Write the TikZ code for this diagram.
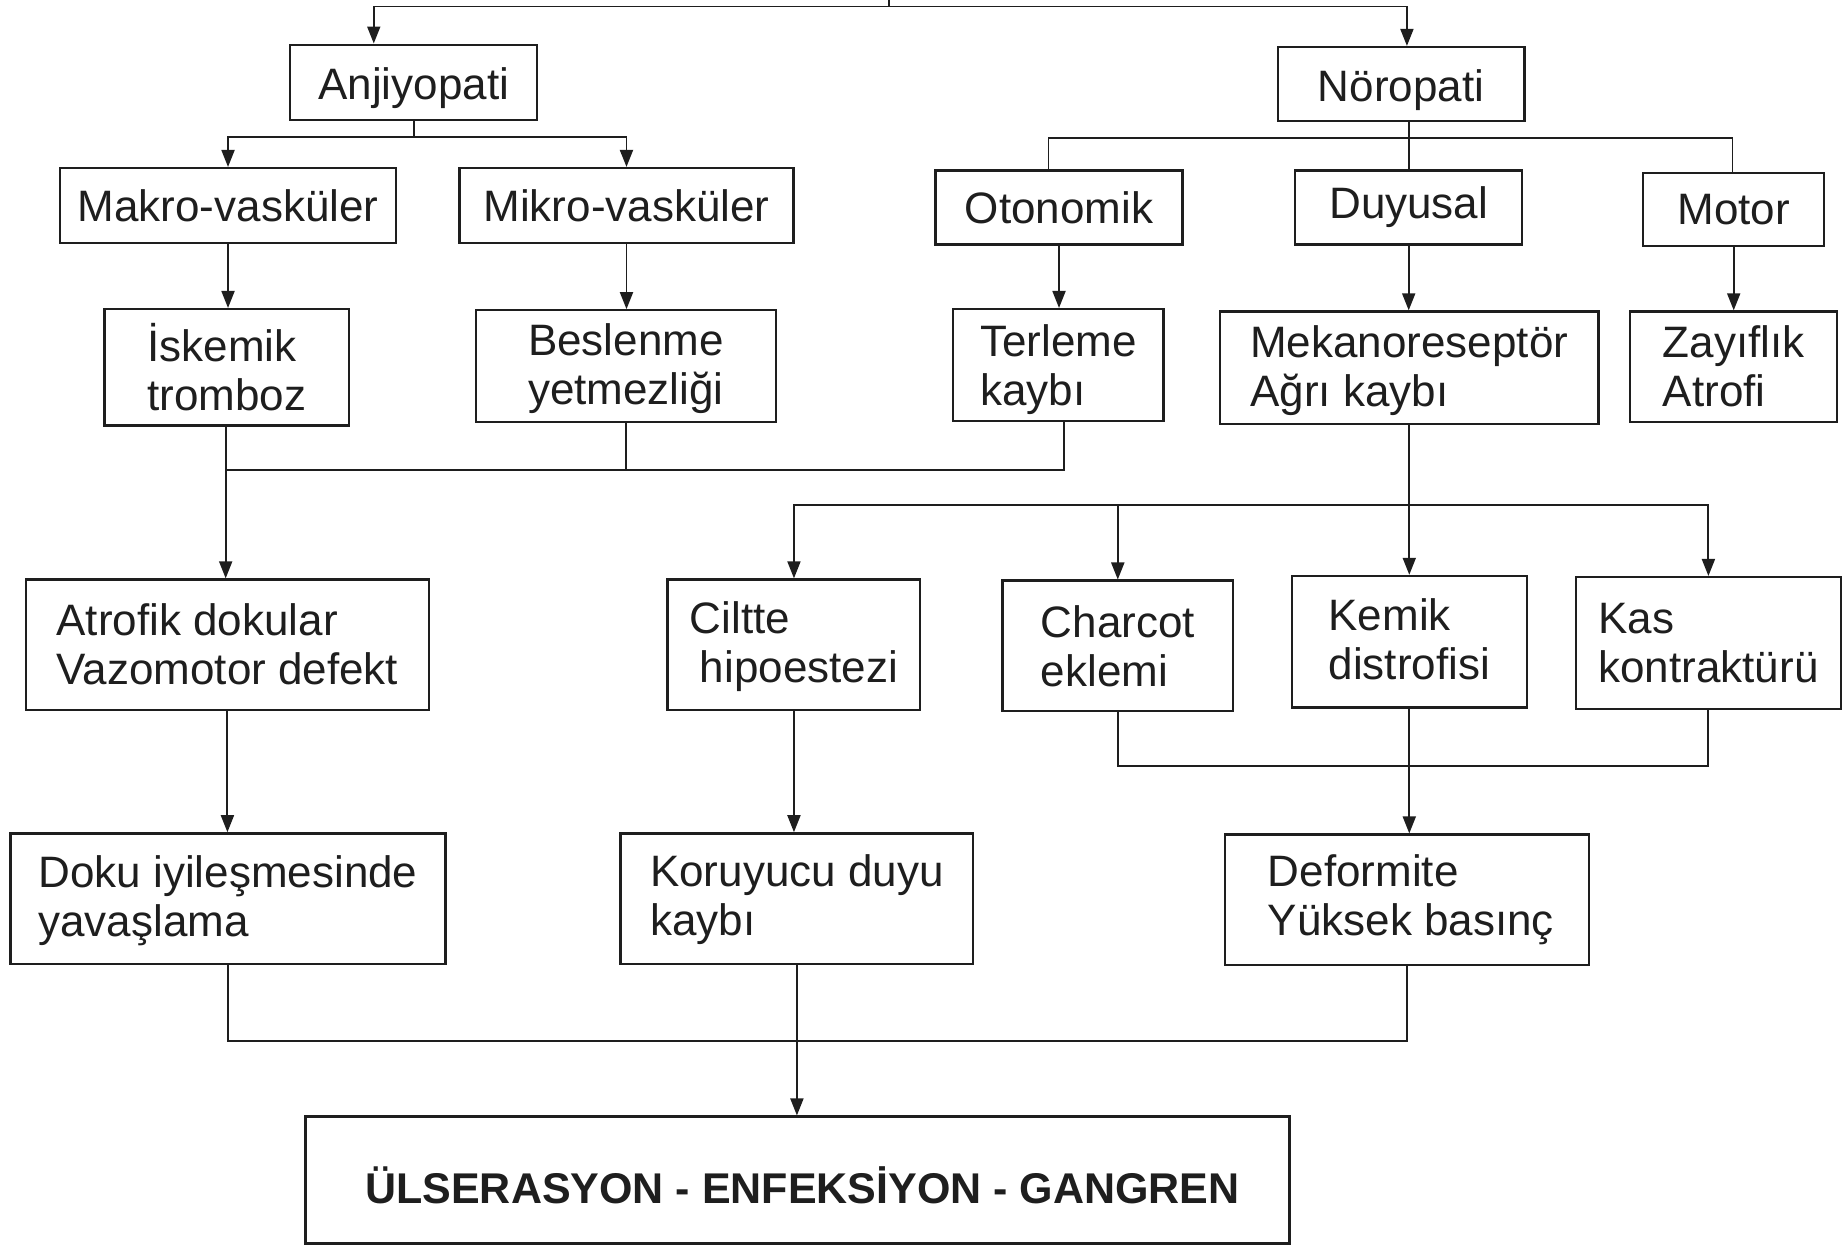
\documentclass[tikz,border=0pt]{standalone}
\usepackage{fontspec}
\setmainfont{Liberation Sans}
\usetikzlibrary{arrows.meta}
\definecolor{ink}{HTML}{1E1E1E}
\newcommand{\lowr}[2]{\raisebox{-#1pt}[\height][\depth]{#2}}
\begin{document}
\begin{tikzpicture}[x=1.1754pt,y=-1.1754pt,
  box/.style 2 args={draw=ink,line width=2.3pt,text=ink,minimum width=#1*1.1754pt,minimum height=#2*1.1754pt,inner sep=0pt,align=left,font=\fontsize{44}{49}\selectfont},
  ln/.style={draw=ink,line width=1.9pt},
  arr/.style={ln,-{Triangle[length=17pt,width=13pt]}}]
\useasboundingbox (0,0) rectangle (1568,1060);

% boxes
\node[box={210}{64}] (anj) at (352,70) {\lowr{6}{Anjiyopati}};
\node[box={210}{63}] (nor) at (1192,71.5) {\lowr{6}{Nöropati}};
\node[box={286}{64}] (makro) at (194,175) {Makro-vasküler};
\node[box={284}{64}] (mikro) at (533,175) {Mikro-vasküler};
\node[box={210}{63}] (oto) at (901,176.5) {Otonomik};
\node[box={193}{63}] (duy) at (1198.5,176.5) {Duyusal};
\node[box={154}{62}] (mot) at (1475,178) {Motor};
\node[box={208}{99}] (isk) at (193,312.5) {İskemik\\tromboz};
\node[box={255}{95}] (bes) at (532.5,311.5) {\lowr{4}{\begin{tabular}{@{}l@{}}Beslenme\\yetmezliği\end{tabular}}};
\node[box={179}{95}] (ter) at (900.5,310.5) {\lowr{6}{\begin{tabular}{@{}l@{}}Terleme\\kaybı\end{tabular}}};
\node[box={322}{96}] (mek) at (1199,313) {\lowr{4}{\begin{tabular}{@{}l@{}}Mekanoreseptör\\Ağrı kaybı\end{tabular}}};
\node[box={176}{94}] (zay) at (1475,312) {Zayıflık\\Atrofi};
\node[box={343}{111}] (atr) at (193.5,548.5) {Atrofik dokular\\Vazomotor defekt};
\node[box={215}{111}] (cil) at (675.5,548.5) {\lowr{3}{\begin{tabular}{@{}l@{}}Ciltte\\\hspace*{10pt}hipoestezi\end{tabular}}};
\node[box={196}{111}] (cha) at (951,549.5) {Charcot\\eklemi};
\node[box={200}{112}] (kem) at (1199,546) {\lowr{3}{\begin{tabular}{@{}l@{}}Kemik\\distrofisi\end{tabular}}};
\node[box={225}{112}] (kas) at (1453.5,547) {Kas\\kontraktürü};
\node[box={370}{111}] (dok) at (194,764.5) {\lowr{4}{\begin{tabular}{@{}l@{}}Doku iyileşmesinde\\yavaşlama\end{tabular}}};
\node[box={300}{111}] (kor) at (678,764.5) {\lowr{3}{\begin{tabular}{@{}l@{}}Koruyucu duyu\\kaybı\end{tabular}}};
\node[box={310}{111}] (def) at (1197,765.5) {\hspace*{8pt}Deformite\\\hspace*{8pt}Yüksek basınç};
\node[box={837}{108},font=\fontsize{43}{48}\selectfont\bfseries] (ulc) at (678.5,1004) {\hspace*{10pt}\lowr{5}{ÜLSERASYON - ENFEKSİYON - GANGREN}};

% top connectors
\coordinate (tp) at (756,0);
\coordinate (tj) at (756,5.5);
\coordinate (a1) at (318,5.5);
\coordinate (a2) at (1197,5.5);
\draw[ln] (tp) -- (tj);
\draw[ln] (a1) -- (a2);
\draw[arr] (a1) -- (a1 |- anj.north);
\draw[arr] (a2) -- (a2 |- nor.north);

% Anjiyopati branches
\coordinate (aj) at (352,116.5);
\draw[ln] (anj.south) -- (aj);
\draw[arr] (aj) -| (makro.north);
\draw[arr] (aj) -| (mikro.north);

% Noropati branches
\coordinate (nj) at (1199,117.7);
\coordinate (o1) at (892,117.7);
\coordinate (m1) at (1474,117.7);
\draw[ln] (nj |- nor.south) -- (nj |- duy.north);
\draw[ln] (o1 |- oto.north) -- (o1) -- (m1) -- (m1 |- mot.north);

% second level arrows
\draw[arr] (makro.south) -- (makro.south |- isk.north);
\draw[arr] (mikro.south) -- (mikro.south |- bes.north);
\draw[arr] (oto.south) -- (oto.south |- ter.north);
\draw[arr] (duy.south) -- (duy.south |- mek.north);
\draw[arr] (mot.south) -- (mot.south |- zay.north);

% join 1
\coordinate (j1) at (192,400);
\coordinate (j1r) at (905,400);
\draw[ln] (j1 |- isk.south) -- (j1);
\draw[ln] (bes.south) -- (bes.south |- j1);
\draw[ln] (j1r |- ter.south) -- (j1r) -- (j1);
\draw[arr] (j1) -- (j1 |- atr.north);

% join 2
\coordinate (k1) at (1199,430);
\draw[ln] (mek.south) -- (k1);
\draw[arr] (k1) -- (kem.north);
\draw[arr] (k1) -| (cil.north);
\draw[arr] (k1) -| (cha.north);
\draw[arr] (k1) -| (kas.north);

% join 3
\coordinate (h3) at (1199,652);
\draw[ln] (cha.south) |- (h3) -| (kas.south);
\draw[arr] (kem.south) -- (kem.south |- def.north);

% fourth level
\draw[arr] (atr.south) -- (atr.south |- dok.north);
\draw[arr] (cil.south) -- (cil.south |- kor.north);

% join 4
\coordinate (h4) at (677,885.5);
\draw[ln] (dok.south) |- (h4) -| (def.south);
\draw[arr] (kor.south) -- (kor.south |- ulc.north);
\end{tikzpicture}
\end{document}
